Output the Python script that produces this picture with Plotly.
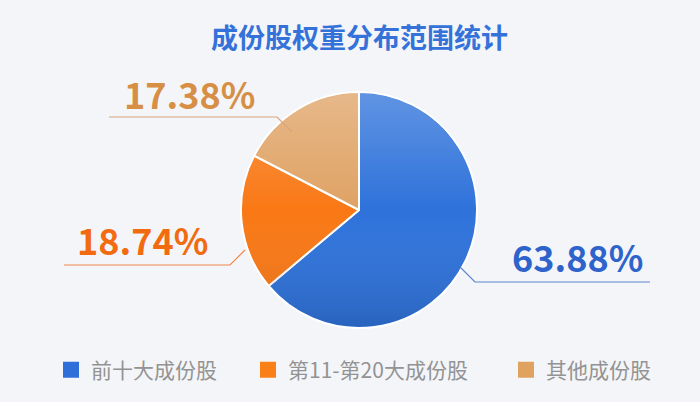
import base64
import plotly.graph_objects as go

# data
names = ["前十大成份股", "第11-第20大成份股", "其他成份股"]
weights = [63.88, 18.74, 17.38]

slice_colors = ["#2E72DA", "#F97815", "#DFA264"]
legend_colors = ["#2E6FD9", "#F98016", "#E0A25F"]
text_colors = ["#2F63CC", "#F26B0F", "#D68F45"]
line_colors = ["#5F85CC", "#F2874A", "#D6A77A"]

W, H = 700, 402

# pie box in pixels (left, top, right, bottom)
pie_box = (241, 92, 477, 328)

# label layout (pixels): knee of leader, far end of horizontal line, text centre
label_layout = [
    {"knee": (475, 282), "end": 650, "dir": (-1, -1), "text": (577, 256)},
    {"knee": (230, 265), "end": 64, "dir": (1, -1), "text": (142, 239)},
    {"knee": (277, 117), "end": 109, "dir": (1, 1), "text": (190, 93)},
]
legend_widths = [152, 213, 110]


def px(x):
    return x / W


def py(y):
    return 1 - y / H


fig = go.Figure()

fig.add_trace(
    go.Pie(
        labels=names,
        values=weights,
        sort=False,
        direction="clockwise",
        rotation=0,
        marker=dict(colors=slice_colors, line=dict(color="white", width=2)),
        textinfo="none",
        hoverinfo="label+percent",
        showlegend=False,
        domain=dict(x=[px(pie_box[0]), px(pie_box[2])],
                    y=[py(pie_box[3]), py(pie_box[1])]),
    )
)

# legend entries (square markers)
for n, c, lw in zip(names, legend_colors, legend_widths):
    fig.add_trace(
        go.Scatter(
            x=[None], y=[None], mode="markers", name=n,
            marker=dict(symbol="square", size=16, color=c, line=dict(width=0)),
            legendwidth=lw, hoverinfo="skip",
        )
    )

"""Vertical shading over the pie to imitate the gradient fill"""

svg = (
    '<svg xmlns="http://www.w3.org/2000/svg" width="200" height="200" viewBox="0 0 200 200">'
    '<defs><linearGradient id="g" x1="0" y1="0" x2="0" y2="1">'
    '<stop offset="0" stop-color="#ffffff" stop-opacity="0.24"/>'
    '<stop offset="0.5" stop-color="#ffffff" stop-opacity="0"/>'
    '<stop offset="1" stop-color="#000000" stop-opacity="0.13"/>'
    '</linearGradient></defs>'
    '<circle cx="100" cy="100" r="99" fill="url(#g)"/></svg>'
)
svg_uri = "data:image/svg+xml;base64," + base64.b64encode(svg.encode()).decode()

"""Leader lines and value labels"""

shapes = []
annotations = []
for v, lay, lc, tc in zip(weights, label_layout, line_colors, text_colors):
    kx, ky = lay["knee"]
    dx, dy = lay["dir"]
    ax, ay = kx + 15 * dx, ky + 15 * dy
    path = "M {},{} L {},{} L {},{}".format(
        px(ax), py(ay), px(kx), py(ky), px(lay["end"]), py(ky)
    )
    shapes.append(
        dict(type="path", xref="paper", yref="paper", path=path,
             line=dict(color=lc, width=1.2))
    )
    tx, ty = lay["text"]
    annotations.append(
        dict(
            text="<b>{:.2f}%</b>".format(v),
            x=px(tx), y=py(ty), xref="paper", yref="paper",
            xanchor="center", yanchor="middle", showarrow=False,
            font=dict(family="Noto Sans CJK SC", size=36, color=tc),
        )
    )

fig.update_layout(
    width=W,
    height=H,
    margin=dict(l=0, r=0, t=0, b=0),
    paper_bgcolor="#F3F5F9",
    plot_bgcolor="#F3F5F9",
    xaxis=dict(visible=False),
    yaxis=dict(visible=False),
    title=dict(
        text="<b>成份股权重分布范围统计</b>",
        x=px(359.5), xanchor="center",
        y=py(39), yanchor="middle",
        font=dict(family="Noto Sans CJK SC", size=27, color="#3472D9"),
    ),
    images=[
        dict(
            source=svg_uri, xref="paper", yref="paper",
            x=px(pie_box[0]), y=py(pie_box[1]),
            sizex=px(pie_box[2]) - px(pie_box[0]),
            sizey=py(pie_box[1]) - py(pie_box[3]),
            xanchor="left", yanchor="top", sizing="stretch", layer="above",
        )
    ],
    shapes=shapes,
    annotations=annotations,
    showlegend=True,
    legend=dict(
        orientation="h",
        x=px(51), xanchor="left",
        y=py(370), yanchor="middle",
        font=dict(family="Noto Sans CJK SC", size=21, color="#939393"),
        bgcolor="rgba(0,0,0,0)",
        traceorder="normal",
        itemclick=False,
    ),
)

fig.write_html(
    "out.html",
    config={"displayModeBar": False},
    post_script="document.body.style.margin='0';",
)
